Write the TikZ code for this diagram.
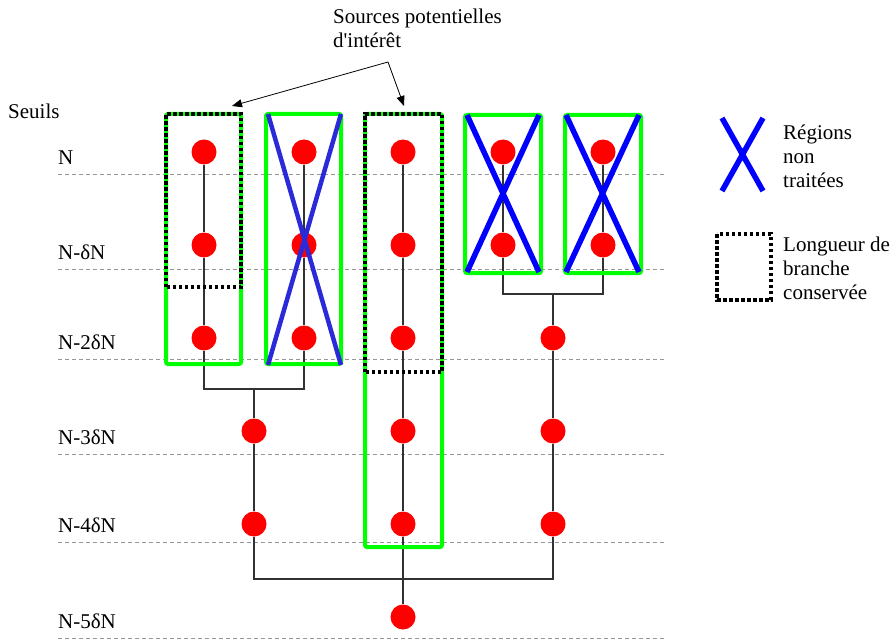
\documentclass[tikz,border=0pt]{standalone}
\usepackage{fontspec}
\setmainfont[Ligatures=TeXOff]{Liberation Serif}
\usetikzlibrary{arrows.meta}
\definecolor{BoxGreen}{RGB}{0,255,0}
\definecolor{CrossBlue}{RGB}{0,0,255}
\definecolor{CrossBlueSoft}{RGB}{42,42,218}
\definecolor{LevelGray}{RGB}{150,150,150}
\definecolor{TreeGray}{RGB}{50,50,50}
\tikzset{
  level/.style={LevelGray,line width=1,dash pattern=on 4 off 3},
  branch/.style={TreeGray,line width=1.3},
  source/.style={circle,fill=red,minimum size=25,inner sep=0},
  region/.style={BoxGreen,line width=4,rounded corners=2},
  kept/.style={black,line width=4,dash pattern=on 3.5 off 2.5},
  dropped/.style={CrossBlue,line width=5.5},
  pointer/.style={-{Triangle[length=10,width=8]},line width=0.8},
  txt/.style={font=\fontsize{21}{24}\selectfont,inner sep=0}
}
\begin{document}
\begin{tikzpicture}[x=1pt,y=-1pt]
\useasboundingbox (0,0) rectangle (891,639);
% seuils
\node[txt,anchor=base west] (seuils) at (8,119) {Seuils};
\foreach \lab/\y [count=\i] in {N/175,N-δN/269,N-2δN/359,N-3δN/454,N-4δN/542,N-5δN/638}{
  \draw[level] (58,\y) -- (665,\y);
  \node[txt,anchor=base west] (lev\i) at (58,\y-10) {\lab};
}
% noeuds
\foreach \c/\x in {a/204,b/304,c/403,d/503,e/603,f/254,g/553}{
  \foreach \r/\y in {1/152,2/245,3/338,4/431,5/524,6/617}{
    \coordinate (\c\r) at (\x,\y);
  }
}
\foreach \n in {a1,a2,a3,b1,b2,b3,c1,c2,c3,c4,c5,c6,d1,d2,e1,e2,f4,f5,g3,g4,g5}
  \node[source] (s\n) at (\n) {};
\coordinate (jab) at (254,389);
\coordinate (jde) at (553,294);
\coordinate (jfg) at (403,579);
\draw[branch] (sa1) -- (sa2) -- (sa3);
\draw[branch] (sb1) -- (sb2) -- (sb3);
\draw[branch] (sa3) |- (jab) -| (sb3);
\draw[branch] (jab) -- (sf4) -- (sf5);
\draw[branch] (sd1) -- (sd2);
\draw[branch] (se1) -- (se2);
\draw[branch] (sd2) |- (jde) -| (se2);
\draw[branch] (jde) -- (sg3) -- (sg4) -- (sg5);
\draw[branch] (sf5) |- (jfg) -| (sg5);
\draw[branch] (sc1) -- (sc2) -- (sc3) -- (sc4) -- (sc5) -- (sc6);
% regions
\draw[region] (166,114) rectangle (241,364);
\draw[region] (266,114) rectangle (341,364);
\draw[region] (365,114) rectangle (442,547);
\draw[region] (465,115) rectangle (541,273);
\draw[region] (565,115) rectangle (641,273);
\draw[kept] (166,287) -- (166,114) -- (241,114) -- (241,287) -- cycle;
\draw[kept] (365,372) -- (365,114) -- (442,114) -- (442,372) -- cycle;
\draw[dropped,CrossBlueSoft,line width=4.5] (268,114) -- (341,365) (341,114) -- (268,365);
\draw[dropped] (467,115) -- (539,272) (539,115) -- (467,272);
\draw[dropped] (566,115) -- (639,272) (639,115) -- (566,272);
% sources d'interet
\node[txt,anchor=north west,align=left] (interet) at (333,9) {Sources potentielles\\d'intérêt};
\coordinate (apex) at (388,62);
\coordinate (tip1) at (232,106);
\coordinate (tip2) at (404,106);
\draw[pointer] (apex) -- (tip1);
\draw[pointer] (apex) -- (tip2);
% legende
\draw[dropped] (722,118) -- (763,191) (763,118) -- (722,191);
\node[txt,anchor=west,align=left] (legX) at (783,156) {Régions\\non\\traitées};
\draw[kept] (717,234) rectangle (771,300);
\node[txt,anchor=west,align=left] (legK) at (783,268) {Longueur de\\branche\\conservée};
\end{tikzpicture}
\end{document}
